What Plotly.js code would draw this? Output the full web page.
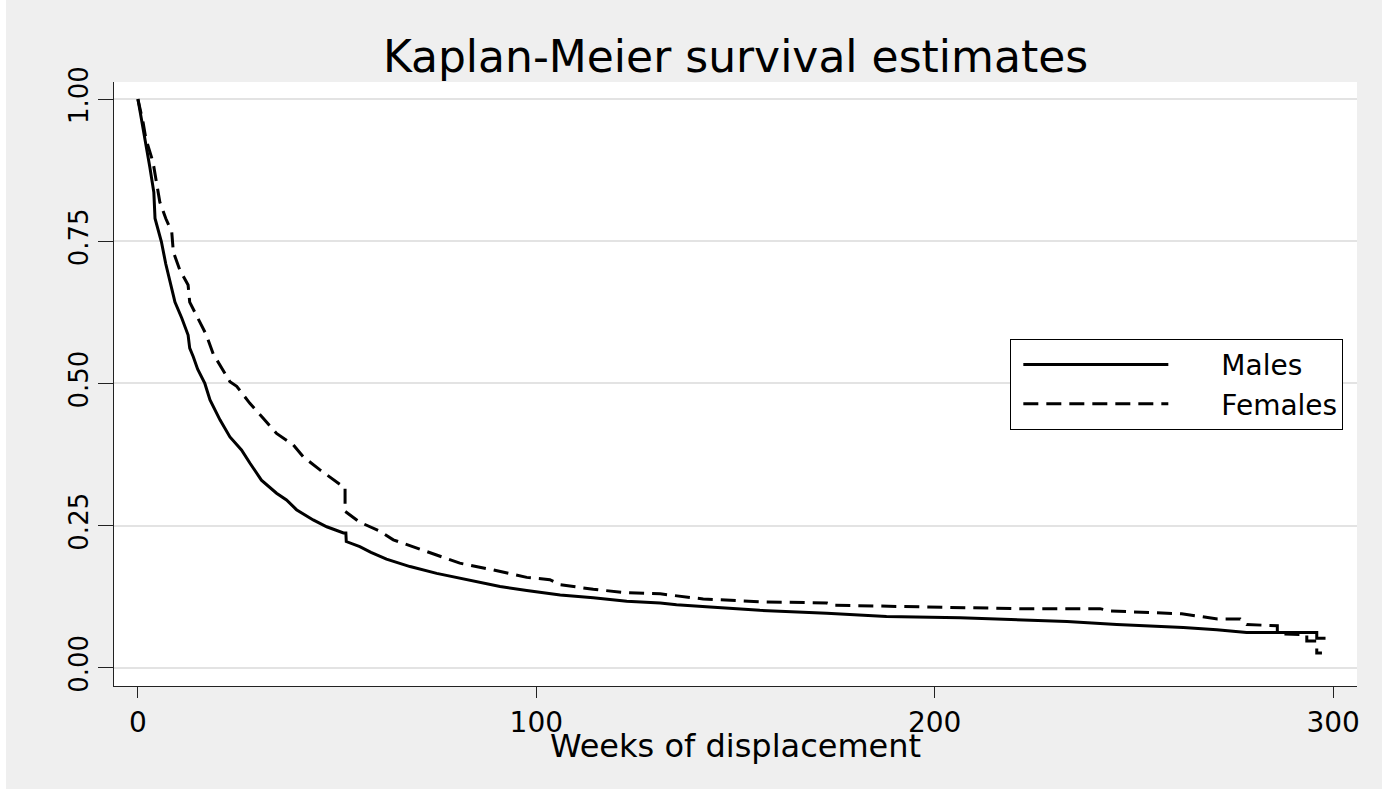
<!DOCTYPE html>
<html>
<head>
<meta charset="utf-8">
<script src="https://cdn.plot.ly/plotly-3.0.1.min.js"></script>
<style>
  html, body { margin: 0; padding: 0; background: #ffffff; }
  #chart { position: absolute; left: 6px; top: 0; width: 1376px; height: 789px; }
</style>
</head>
<body>
<div id="chart"></div>
<script>
// Kaplan-Meier estimates (weeks, survival)
const malesWeeks = [0, 1, 2.2, 3, 4.0, 4.3, 5.9, 7, 8.9, 9.3, 11, 12.2, 12.6, 13.0, 13.9, 15, 16.8, 18.1, 20.6, 23.1, 26.0, 28.1, 31.0, 34.8, 37.3, 39.8, 44.0, 47.4, 51.6, 52.2, 52.3, 55.7, 58.5, 62.4, 68.3, 75.0, 82.5, 90.9, 97.6, 106, 114.3, 122.7, 131.1, 135.2, 143.6, 156.1, 172.9, 187.9, 206.4, 216.4, 221.4, 233.2, 245.7, 262.4, 270.8, 276.7, 278.3, 295.9, 295.9, 298.1];
const malesSurv  = [1.0, 0.96, 0.918, 0.88, 0.836, 0.79, 0.749, 0.71, 0.655, 0.643, 0.615, 0.594, 0.585, 0.562, 0.547, 0.525, 0.500, 0.471, 0.436, 0.406, 0.383, 0.360, 0.330, 0.307, 0.295, 0.278, 0.260, 0.248, 0.237, 0.237, 0.222, 0.213, 0.203, 0.191, 0.178, 0.166, 0.155, 0.143, 0.136, 0.128, 0.123, 0.117, 0.114, 0.111, 0.107, 0.101, 0.096, 0.090, 0.088, 0.086, 0.084, 0.0815, 0.076, 0.071, 0.067, 0.063, 0.062, 0.062, 0.052, 0.052];

const femalesWeeks = [0, 1.3, 2, 3.8, 5.5, 7, 8.5, 8.9, 10.5, 12.6, 13.0, 15.6, 17.2, 18.9, 21.4, 23.1, 24.8, 28.1, 31.4, 34.8, 39.0, 41.5, 45.7, 49.9, 51.6, 52.0, 52.0, 55.7, 60.8, 64.1, 72.5, 80.8, 89.2, 97.6, 103.4, 106.0, 114.3, 122.7, 131.1, 135.2, 141.9, 156.1, 172.9, 174.6, 189.6, 206.4, 221.4, 241.5, 244, 262, 271, 276.7, 278.3, 286.0, 286.0, 293.4, 293.4, 295.9, 295.9, 297.2];
const femalesSurv  = [1.0, 0.959, 0.93, 0.889, 0.819, 0.79, 0.766, 0.731, 0.70, 0.673, 0.643, 0.608, 0.585, 0.552, 0.523, 0.503, 0.495, 0.465, 0.439, 0.412, 0.392, 0.371, 0.348, 0.327, 0.318, 0.318, 0.275, 0.256, 0.240, 0.225, 0.204, 0.184, 0.172, 0.159, 0.155, 0.146, 0.138, 0.132, 0.130, 0.127, 0.121, 0.116, 0.114, 0.110, 0.108, 0.106, 0.104, 0.104, 0.100, 0.095, 0.086, 0.086, 0.076, 0.074, 0.060, 0.058, 0.047, 0.047, 0.026, 0.026];

const seriesNames = ['Males', 'Females'];
const xTickVals = [0, 100, 200, 300];
const xTickText = ['0', '100', '200', '300'];
const yTickVals = [0, 0.25, 0.5, 0.75, 1];
const yTickText = ['0.00', '0.25', '0.50', '0.75', '1.00'];

const FONT = 'DejaVu Sans, Liberation Sans, Arial, sans-serif';

const traces = [
  { x: malesWeeks, y: malesSurv, name: seriesNames[0], type: 'scatter', mode: 'lines',
    line: { color: '#000000', width: 3, dash: 'solid' } },
  { x: femalesWeeks, y: femalesSurv, name: seriesNames[1], type: 'scatter', mode: 'lines',
    line: { color: '#000000', width: 3, dash: '15px,8px' } }
];

const layout = {
  width: 1376, height: 789,
  paper_bgcolor: '#efefef',
  plot_bgcolor: '#ffffff',
  margin: { l: 108, r: 25, t: 82, b: 103, pad: 0 },
  font: { family: FONT, color: '#000000' },
  title: { text: 'Kaplan-Meier survival estimates', font: { family: FONT, size: 44, color: '#000' },
           x: 0.5, xref: 'paper', xanchor: 'center', y: 1 - 57/789, yref: 'container', yanchor: 'middle' },
  xaxis: {
    range: [-6, 306], tickvals: xTickVals, ticktext: xTickText,
    ticks: 'outside', ticklen: 11, tickwidth: 1, tickcolor: '#222',
    showline: true, linecolor: '#222', linewidth: 1, mirror: false,
    showgrid: false, zeroline: false,
    tickfont: { family: FONT, size: 28 },
    title: { text: 'Weeks of displacement', font: { family: FONT, size: 32 }, standoff: 0 }
  },
  yaxis: {
    range: [-0.032, 1.03], tickvals: yTickVals, ticktext: yTickText, tickangle: -90,
    ticks: 'outside', ticklen: 15, tickwidth: 1, tickcolor: '#222',
    showline: true, linecolor: '#222', linewidth: 1, mirror: false,
    showgrid: true, gridcolor: '#e3e3e3', gridwidth: 2, zeroline: false,
    tickfont: { family: FONT, size: 26 }, ticklabelstandoff: 0
  },
  showlegend: true,
  legend: {
    x: 0.989, xanchor: 'right', y: 0.575, yanchor: 'top',
    bgcolor: '#ffffff', bordercolor: '#000000', borderwidth: 1,
    font: { family: FONT, size: 28 }, itemwidth: 200, tracegroupgap: 0
  }
};

Plotly.newPlot('chart', traces, layout, { displayModeBar: false, staticPlot: true }).then(function (gd) {
  // legend line samples: same length as in the reference, with a gap before the text
  gd.querySelectorAll('.legend .legendlines path').forEach(function (p) {
    p.setAttribute('d', 'M12,0h145');
  });
  // x-axis title sits a little closer to the tick labels in the reference
  const xt = gd.querySelector('.g-xtitle text');
  if (xt) { xt.setAttribute('y', String(parseFloat(xt.getAttribute('y')) - 12)); }
});
</script>
</body>
</html>
